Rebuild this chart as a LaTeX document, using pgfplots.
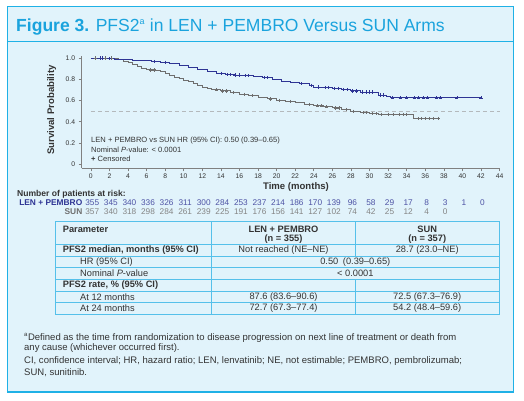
\documentclass[border=0pt]{standalone}
\usepackage{pgfplots}
\pgfplotsset{compat=1.18}
\usepackage{fontspec}
\setmainfont{Liberation Sans}

\definecolor{frame}{HTML}{1FB1E6}
\definecolor{panel}{HTML}{E1F3FB}
\definecolor{titlec}{HTML}{1AA3DD}
\definecolor{lenc}{HTML}{2E3494}
\definecolor{sunc}{HTML}{6E6E6E}
\definecolor{txt}{HTML}{333333}
\definecolor{axisc}{HTML}{808080}
\definecolor{tabline}{HTML}{55C0EA}
\definecolor{refline}{HTML}{B4B9BC}

\newcommand\fs[1]{\fontsize{#1}{#1}\selectfont}

\begin{document}
\begin{tikzpicture}[x=1bp,y=1bp]
% canvas and panel
\fill[white] (0,0) rectangle (524,400);
\fill[panel] (7.3,8) rectangle (513.3,393.3);
\draw[frame, line width=1.5bp] (7.3,8) rectangle (513.3,393.3);
\draw[frame, line width=0.9bp] (7.3,358.7) -- (513.3,358.7);
\node[anchor=base west, inner sep=0, text=titlec, font=\fs{17.6}] at (16,369)
  {\textbf{Figure 3.} PFS2\textsuperscript{\fs{9}a} in LEN + PEMBRO Versus SUN Arms};

% Kaplan-Meier curves
\begin{axis}[
  at={(97.8,222.2)}, anchor=origin, scale only axis,
  width=418bp, height=112.5bp,
  xmin=-1, xmax=44, ymin=-0.04, ymax=1.02,
  axis x line*=bottom, axis y line*=left,
  axis line style={-, draw=axisc, line width=0.6bp},
  xtick={0,2,...,44}, ytick={0,0.2,0.4,0.6,0.8,1},
  yticklabels={0,0.2,0.4,0.6,0.8,1.0},
  tick align=outside, major tick length=3bp,
  tick style={axisc, line width=0.6bp},
  ticklabel style={font=\fs{6.8}, text=txt},
  xticklabel style={yshift=1bp},
  /pgf/number format/assume math mode=true,
  clip=false,
]
\addplot[refline, dash pattern=on 4bp off 3bp, line width=0.8bp]
  coordinates {(0,0.5) (44,0.5)};

% SUN
\addplot[const plot, sunc, line width=0.9bp] coordinates {
(0,1.0) (2.5,0.995) (3,0.985) (3.5,0.97) (4,0.955) (4.5,0.935) (5,0.92)
(5.5,0.9) (6,0.888) (7,0.88) (7.5,0.87) (8,0.855) (8.5,0.84) (9,0.82)
(9.5,0.805) (10,0.79) (10.5,0.78) (11,0.765) (11.5,0.745) (12,0.725)
(12.5,0.71) (13,0.7) (14,0.69) (15,0.675) (16,0.66) (17,0.645) (18,0.63)
(19,0.615) (20,0.603) (21,0.59) (22,0.58) (23,0.565) (24,0.55) (25,0.54)
(26,0.53) (27,0.515) (28,0.5) (29,0.485) (30,0.478) (31,0.47) (34.7,0.43)
(37.4,0.43)};
\addplot[only marks, mark=+, mark size=1.6bp, sunc, line width=0.6bp] coordinates {
(0.5,1) (1,1) (1.6,1) (2.2,1) (6.4,0.888) (6.8,0.888) (13.5,0.7) (14.2,0.69)
(14.6,0.69) (15.3,0.675) (16.5,0.66) (17.4,0.645) (19.3,0.615) (20.3,0.603)
(21.5,0.59) (23.5,0.565) (24.4,0.55) (24.8,0.55) (25.4,0.54) (26.3,0.53)
(26.7,0.53) (27.5,0.515) (28.3,0.5) (29.3,0.485) (29.7,0.485) (30.3,0.478)
(30.7,0.478) (31.3,0.47) (32,0.47) (32.6,0.47) (33.2,0.47) (33.6,0.47)
(34,0.47) (35.2,0.43) (35.6,0.43) (36,0.43) (36.4,0.43) (36.9,0.43) (37.4,0.43)};

% LEN + PEMBRO
\addplot[const plot, lenc, line width=0.9bp] coordinates {
(0,1.0) (1.5,0.997) (2.5,0.99) (3.5,0.985) (4.5,0.98) (5.5,0.975) (6.5,0.968)
(7.5,0.96) (8.5,0.945) (9.5,0.93) (10.5,0.915) (11.5,0.893) (12.5,0.876)
(13.5,0.857) (14.5,0.845) (15.5,0.84) (16.5,0.835) (17.5,0.826) (18.5,0.816)
(19.5,0.8) (20.5,0.782) (21.5,0.77) (22.5,0.758) (23.5,0.745) (24,0.727)
(25,0.722) (26,0.716) (27,0.705) (28,0.69) (29,0.68) (30.5,0.675) (31,0.652)
(31.8,0.64) (32.2,0.625) (42,0.625)};
\addplot[only marks, mark=+, mark size=1.6bp, lenc, line width=0.6bp] coordinates {
(1,1) (1.2,1) (2,0.997) (6.8,0.968) (8,0.96) (14,0.857) (14.7,0.845) (15,0.845)
(15.5,0.84) (16,0.84) (16.6,0.835) (17,0.835) (18.7,0.816) (19,0.816)
(22.7,0.758) (23.7,0.745) (24.5,0.727) (25.2,0.722) (25.6,0.722) (26.2,0.716)
(26.6,0.716) (27.2,0.705) (27.6,0.705) (28.2,0.69) (28.6,0.69) (29.2,0.68)
(29.6,0.68) (30,0.68) (30.3,0.68) (31.2,0.652) (31.5,0.652) (32.5,0.625)
(33.3,0.625) (34,0.625) (34.8,0.625) (35.3,0.625) (35.8,0.625) (36.2,0.625)
(37.2,0.625) (37.6,0.625) (39.4,0.625) (42,0.625)};
\end{axis}

% axis titles
\node[rotate=90, font=\fs{9.6}\bfseries, text=txt] at (51.7,290) {Survival Probability};
\node[font=\fs{9.6}\bfseries, text=txt] at (296,212.7) {Time (months)};

% statistics inside the plot
\begin{scope}[every node/.style={anchor=west, inner sep=0, font=\fs{7.6}, text=txt}]
\node at (91,259.3) {LEN + PEMBRO vs SUN HR (95\% CI): 0.50 (0.39–0.65)};
\node at (91,250) {Nominal \textit{P}-value: < 0.0001};
\node at (91,241) {\textbf{+} Censored};
\end{scope}

% patients at risk
\node[anchor=west, inner sep=0, font=\fs{8.6}\bfseries, text=txt] at (17,206) {Number of patients at risk:};
\node[anchor=east, inner sep=0, font=\fs{8.4}\bfseries, text=lenc] at (82.5,197.5) {LEN + PEMBRO};
\node[anchor=east, inner sep=0, font=\fs{8.4}\bfseries, text=sunc] at (82.5,188) {SUN};
\foreach \n [count=\i from 0] in {355,345,340,336,326,311,300,284,253,237,214,186,170,139,96,58,29,17,8,3,1,0}
  \node[inner sep=0, font=\fs{8.3}, text=lenc!85!white] at ({92.29+18.578*\i},197.5) {\n};
\foreach \n [count=\i from 0] in {357,340,318,298,284,261,239,225,191,176,156,141,127,102,74,42,25,12,4,0}
  \node[inner sep=0, font=\fs{8.3}, text=sunc!85!white] at ({92.29+18.578*\i},188) {\n};

% summary table
\begin{scope}[tabline, line width=0.7bp]
\draw (55,85.7) rectangle (499,179);
\foreach \y in {155.7,144,132.3,120.7,109,97.3} \draw (55,\y) -- (499,\y);
\draw (211.7,85.7) -- (211.7,179);
\draw (355.3,144) -- (355.3,179);
\draw (355.3,85.7) -- (355.3,120.7);
\end{scope}
\begin{scope}[every node/.style={inner sep=0, font=\fs{9.3}, text=txt}]
\node[anchor=west, font=\fs{9.3}\bfseries] at (62.7,171) {Parameter};
\node[font=\fs{9.3}\bfseries] at (283.5,171) {LEN + PEMBRO};
\node[font=\fs{9.3}\bfseries] at (283.5,160.7) {(n = 355)};
\node[font=\fs{9.3}\bfseries] at (427.2,171) {SUN};
\node[font=\fs{9.3}\bfseries] at (427.2,160.7) {(n = 357)};
\node[anchor=west, font=\fs{9.3}\bfseries] at (62.7,149.85) {PFS2 median, months (95\% CI)};
\node at (283.5,149.85) {Not reached (NE–NE)};
\node at (427.2,149.85) {28.7 (23.0–NE)};
\node[anchor=west] at (80,138.15) {HR (95\% CI)};
\node at (355.3,138.15) {0.50\enspace(0.39–0.65)};
\node[anchor=west] at (80,126.5) {Nominal \textit{P}-value};
\node at (355.3,126.5) {< 0.0001};
\node[anchor=west, font=\fs{9.3}\bfseries] at (62.7,114.85) {PFS2 rate, \% (95\% CI)};
\node[anchor=west] at (80,103.15) {At 12 months};
\node at (283.5,103.15) {87.6 (83.6–90.6)};
\node at (427.2,103.15) {72.5 (67.3–76.9)};
\node[anchor=west] at (80,91.5) {At 24 months};
\node at (283.5,91.5) {72.7 (67.3–77.4)};
\node at (427.2,91.5) {54.2 (48.4–59.6)};
\end{scope}

% footnotes
\begin{scope}[every node/.style={anchor=west, inner sep=0, font=\fs{9.55}, text=txt}]
\node at (24,62) {\textsuperscript{\fs{6}a}Defined as the time from randomization to disease progression on next line of treatment or death from};
\node at (24,51.5) {any cause (whichever occurred first).};
\node at (24,38.5) {CI, confidence interval; HR, hazard ratio; LEN, lenvatinib; NE, not estimable; PEMBRO, pembrolizumab;};
\node at (24,27.5) {SUN, sunitinib.};
\end{scope}
\end{tikzpicture}
\end{document}
